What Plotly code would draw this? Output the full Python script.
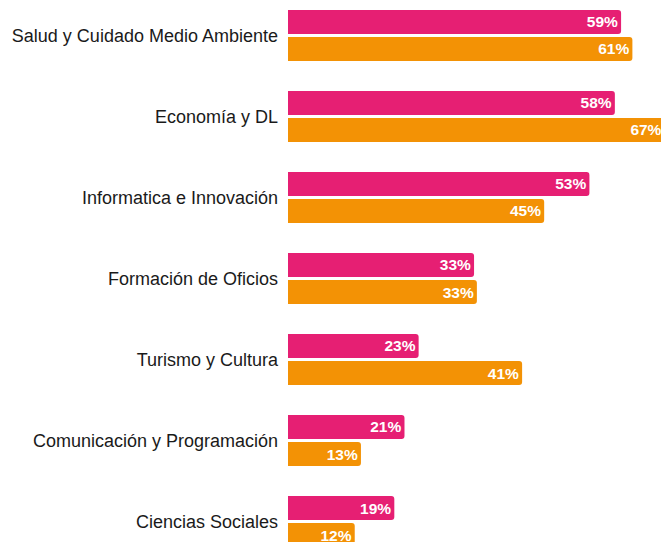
import plotly.graph_objects as go

categories = ["Salud y Cuidado Medio Ambiente", "Economía y DL", "Informatica e Innovación",
              "Formación de Oficios", "Turismo y Cultura", "Comunicación y Programación",
              "Ciencias Sociales"]
serie_a = [58.9, 57.8, 53.3, 32.9, 23.1, 20.6, 18.8]
serie_b = [60.9, 66.6, 45.3, 33.4, 41.4, 12.9, 11.8]
series_names = ["Serie A", "Serie B"]
colors = ["#E61F73", "#F39205"]

fig = go.Figure()
for name, vals, col in zip(series_names, [serie_a, serie_b], colors):
    fig.add_trace(go.Bar(
        y=categories, x=vals, name=name, orientation="h",
        marker=dict(color=col, line=dict(width=0)),
        texttemplate="%{x:.0f}%", textposition="inside", insidetextanchor="end",
        textangle=0, constraintext="none",
        textfont=dict(color="white", size=15.5, family="Liberation Sans, Arial", weight="bold"),
        cliponaxis=True,
    ))

fig.update_layout(
    width=661, height=542,
    margin=dict(l=288, r=0, t=0, b=0),
    barmode="group", bargap=0.333, bargroupgap=0.111, barcornerradius=3,
    showlegend=False,
    plot_bgcolor="white", paper_bgcolor="white",
    font=dict(family="Liberation Sans, Arial", color="#1a1a1a"),
    xaxis=dict(range=[0, 65.96], visible=False, showgrid=False, zeroline=False),
    yaxis=dict(type="category", range=[6.253, -0.438], showgrid=False, zeroline=False,
               showline=False, ticks="", ticklabelstandoff=9,
               tickfont=dict(size=18, color="#1a1a1a")),
)

fig.write_html("out.html", config={"displayModeBar": False},
               post_script="document.body.style.margin='0';document.body.style.overflow='hidden';")
